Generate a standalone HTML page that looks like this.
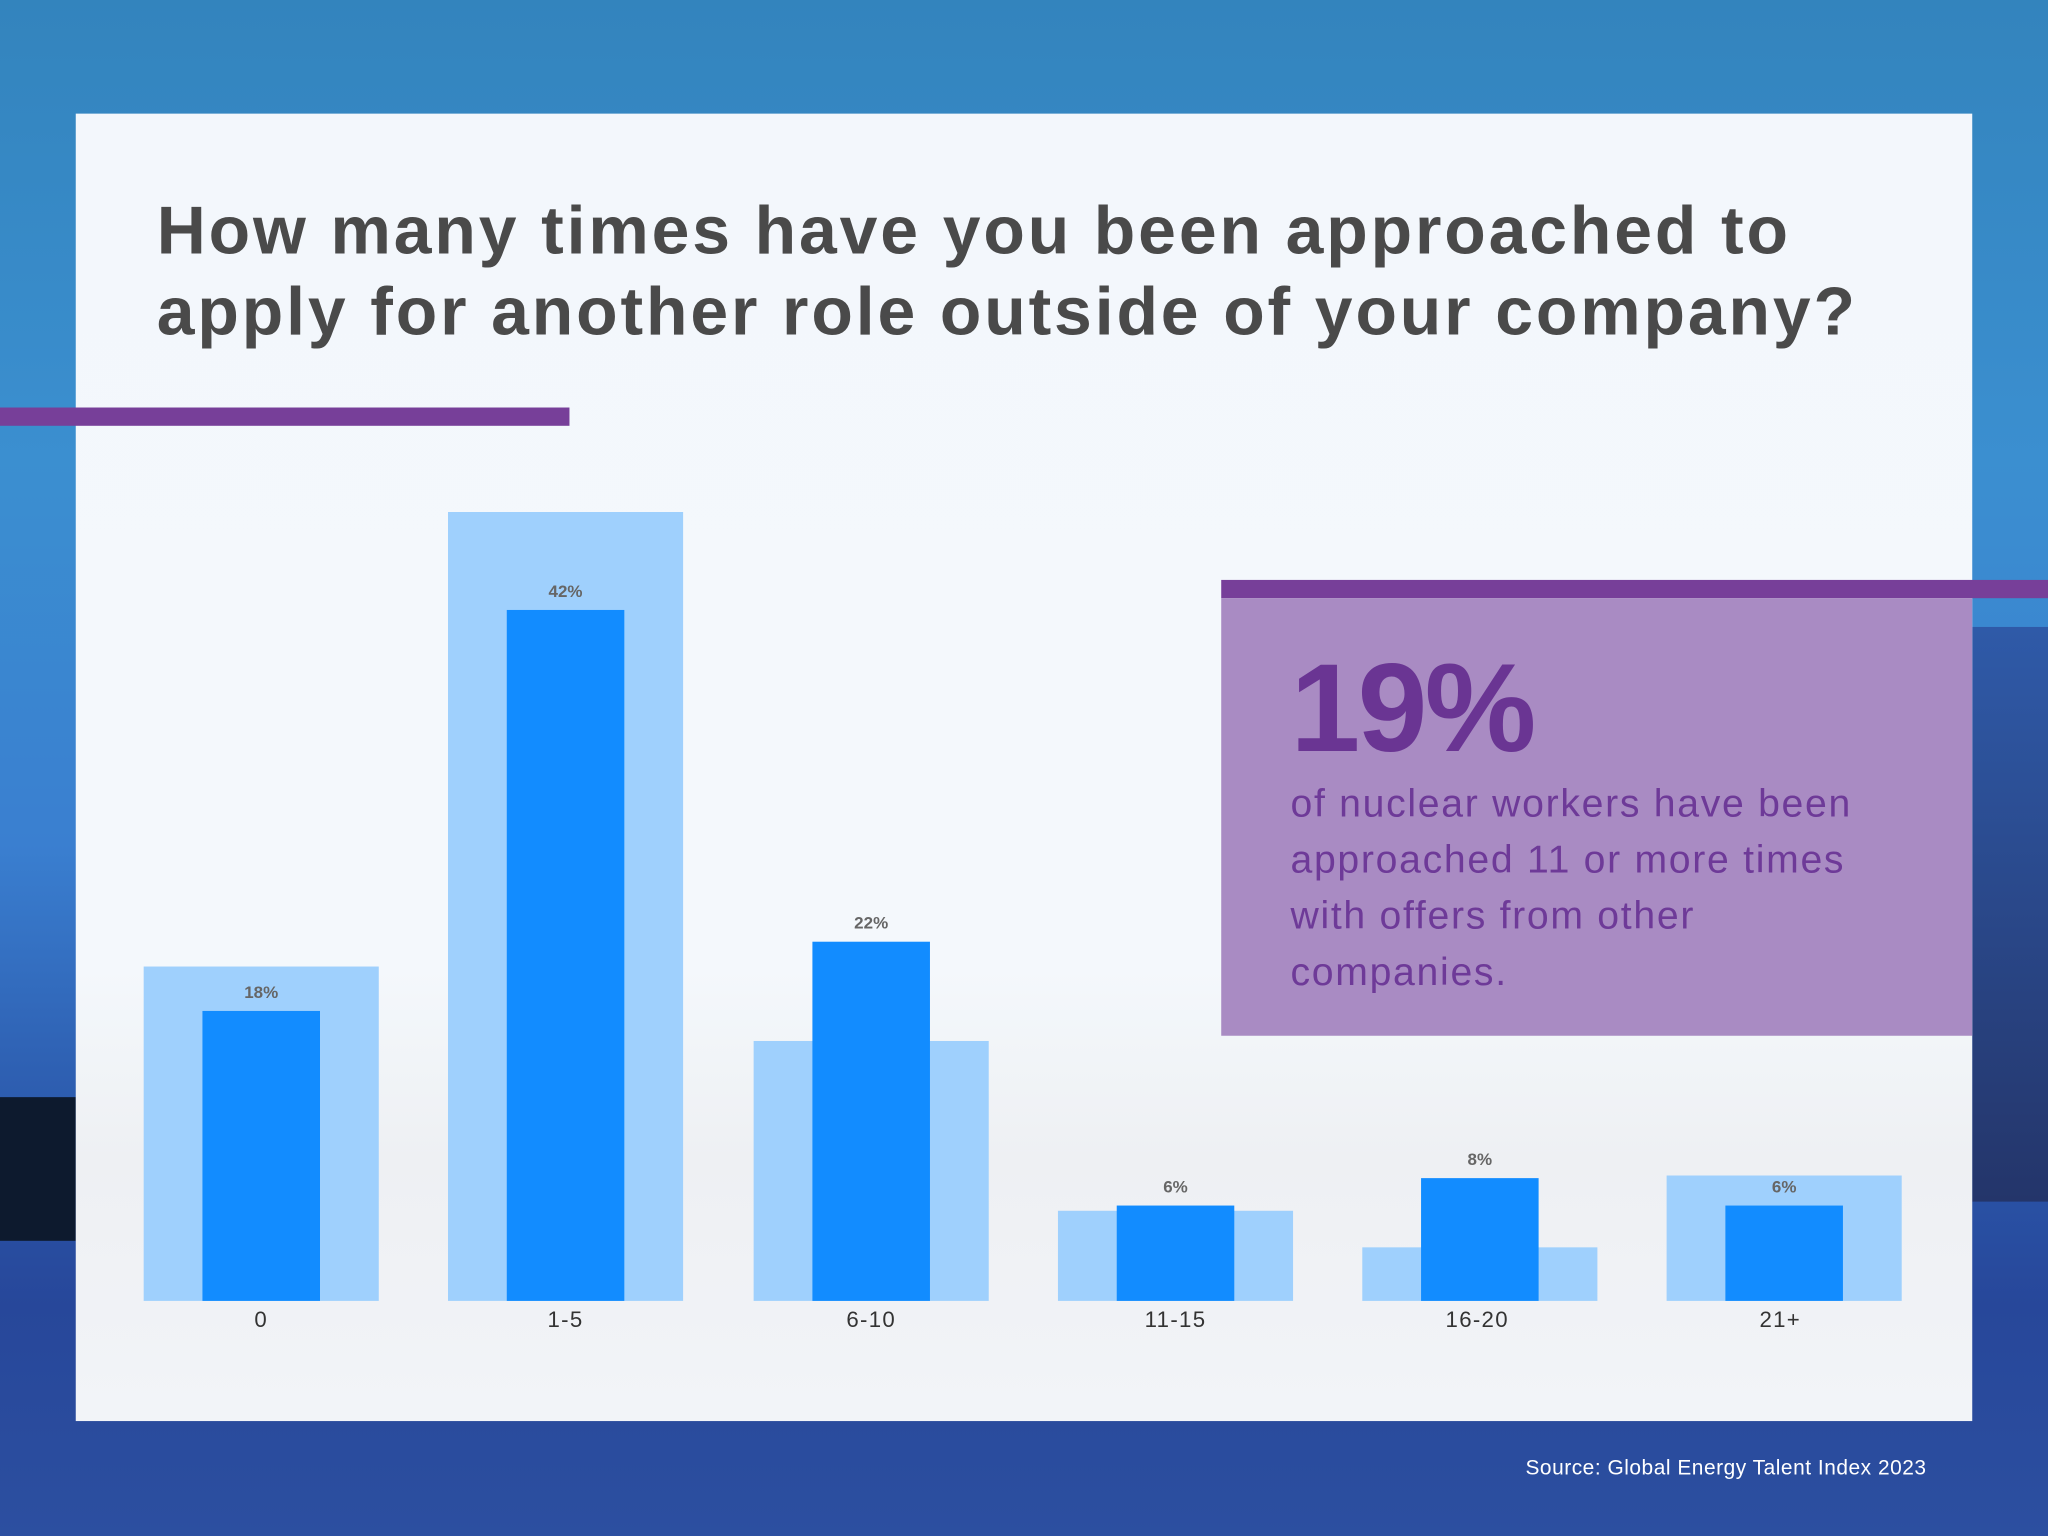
<!DOCTYPE html>
<html><head><meta charset="utf-8"><style>
html,body{margin:0;padding:0;width:2048px;height:1536px;overflow:hidden}
#w{position:absolute;left:0;top:0;width:1568px;height:1176px;transform:scale(1.306122);transform-origin:0 0;
background:linear-gradient(180deg,#3384bd 0%,#3b8fd0 30%,#3a7fd0 55%,#2a55a8 75%,#27479a 85%,#2c4fa0 100%);font-family:"Liberation Sans",sans-serif}
.a{position:absolute}
.l{background:#9fd0fd}.d{background:#128cff}
.v{position:absolute;font-size:13px;font-weight:bold;color:#666;width:100px;text-align:center}
.x{position:absolute;font-size:17px;color:#333;width:100px;text-align:center;top:1001px;letter-spacing:1px}
</style></head><body><div id="w">
<div class="a" style="left:0;top:840px;width:58px;height:110px;background:#0d1a2e"></div>
<div class="a" style="left:1510px;top:480px;width:58px;height:440px;background:linear-gradient(180deg,#2f5aa8,#24356a)"></div>
<div class="a" style="left:58px;top:87px;width:1452px;height:1001px;background:linear-gradient(180deg,#f3f7fc 0%,#f4f8fc 65%,#eef0f3 80%,#f2f4f8 100%)"></div>
<div class="a" style="left:120px;top:146px;font-size:52px;font-weight:bold;color:#4a4a4a;line-height:62px;letter-spacing:2.2px">How many times have you been approached to<br>apply for another role outside of your company?</div>
<div class="a" style="left:0;top:312px;width:436px;height:14px;background:#773f99"></div>

<div class="a l" style="left:110px;top:740px;width:180px;height:256px"></div>
<div class="a d" style="left:155px;top:774px;width:90px;height:222px"></div>
<div class="v" style="left:150px;top:752px">18%</div>
<div class="x" style="left:150px">0</div>

<div class="a l" style="left:343px;top:392px;width:180px;height:604px"></div>
<div class="a d" style="left:388px;top:467px;width:90px;height:529px"></div>
<div class="v" style="left:383px;top:445px">42%</div>
<div class="x" style="left:383px">1-5</div>

<div class="a l" style="left:577px;top:797px;width:180px;height:199px"></div>
<div class="a d" style="left:622px;top:721px;width:90px;height:275px"></div>
<div class="v" style="left:617px;top:699px">22%</div>
<div class="x" style="left:617px">6-10</div>

<div class="a l" style="left:810px;top:927px;width:180px;height:69px"></div>
<div class="a d" style="left:855px;top:923px;width:90px;height:73px"></div>
<div class="v" style="left:850px;top:901px">6%</div>
<div class="x" style="left:850px">11-15</div>

<div class="a l" style="left:1043px;top:955px;width:180px;height:41px"></div>
<div class="a d" style="left:1088px;top:902px;width:90px;height:94px"></div>
<div class="v" style="left:1083px;top:880px">8%</div>
<div class="x" style="left:1081px">16-20</div>

<div class="a l" style="left:1276px;top:900px;width:180px;height:96px"></div>
<div class="a d" style="left:1321px;top:923px;width:90px;height:73px"></div>
<div class="v" style="left:1316px;top:901px">6%</div>
<div class="x" style="left:1313px">21+</div>

<div class="a" style="left:935px;top:444px;width:633px;height:14px;background:#773f99"></div>
<div class="a" style="left:935px;top:458px;width:575px;height:335px;background:#a98bc3"></div>
<div class="a" style="left:988px;top:488px;font-size:96px;font-weight:bold;color:#6a3593;letter-spacing:-2px;line-height:110px">19%</div>
<div class="a" style="left:988px;top:594px;font-size:30px;color:#6e3a98;line-height:43px;letter-spacing:1.3px">of nuclear workers have been<br>approached 11 or more times<br>with offers from other<br>companies.</div>
<div class="a" style="left:1100px;top:1116px;width:375px;text-align:right;font-size:16px;color:#fff;letter-spacing:0.4px">Source: Global Energy Talent Index 2023</div>
</div></body></html>
